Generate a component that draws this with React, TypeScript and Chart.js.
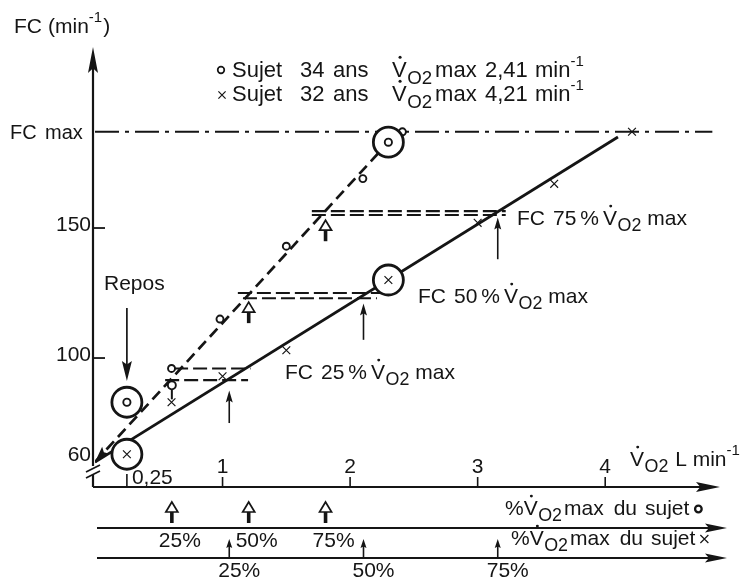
import { useEffect, useRef } from 'react';
import { Chart, registerables } from 'chart.js';

Chart.register(...registerables);

const FONT = '"Liberation Sans", Arial, sans-serif';
const INK = '#151515';

// Sujet 34 ans — V̇O2max 2,41 l/min (points « o »)
const vo2SujetO = [0.6, 0.98, 1.5, 2.1, 2.41];
const fcSujetO = [96, 115, 143, 169, 187];
// Sujet 32 ans — V̇O2max 4,21 l/min (points « × »)
const vo2SujetX = [0.6, 1.0, 1.5, 3.0, 3.6, 4.21];
const fcSujetX = [83, 93, 103, 152, 167, 187];

// Repos and encircled reference points
const vo2Repos = 0.25;
const fcReposO = 83;
const fcReposX = 63;
const vo2CercleO = 2.3;
const fcCercleO = 183;
const vo2CercleX = 2.3;
const fcCercleX = 130;

// Regression lines FC = f(V̇O2)
const droiteOvo2 = [0, 2.3];
const droiteOfc = [60, 183];
const droiteXvo2 = [0, 4.1];
const droiteXfc = [60, 185];

const fcMax = 187;
const fcMaxFin = 4.84;
const vo2MaxO = 2.41;
const vo2MaxX = 4.21;
const pourcentages = [25, 50, 75];

// FC at 25 / 50 / 75 % of V̇O2max: pairs of dashed levels
const niveauHaut = [96, 125, 156.5];
const niveauHautDebut = [0.62, 1.12, 1.7];
const niveauHautFin = [1.22, 2.24, 3.22];
const niveauBas = [91.5, 123, 155];
const niveauBasDebut = [0.55, 1.16, 1.7];
const niveauBasFin = [1.2, 2.21, 3.22];

// Arrow tips (FC) under the levels
const flecheOTip = [89.5, 121.5, 153];
const flecheXTip = [87.5, 121, 154];
const flecheXBase = [75, 107, 138];

const yTicks = [60, 100, 150];
const yTickLabels = ['60', '100', '150'];
const xTicks = [0.25, 1, 2, 3, 4];
const xTickLabels = ['0,25', '1', '2', '3', '4'];

const pts = (xs: number[], ys: number[]) => xs.map((v, i) => ({ x: v, y: ys[i] }));

type Seg = { t: string; at?: number; s?: number; dy?: number; dx?: number; dot?: boolean };

function rich(ctx: CanvasRenderingContext2D, x0: number, y: number, base: number, segs: Seg[]) {
  let cx = x0;
  ctx.textAlign = 'left';
  ctx.textBaseline = 'alphabetic';
  for (const g of segs) {
    const s = g.s ?? base;
    ctx.font = `${s}px ${FONT}`;
    if (g.at !== undefined) cx = g.at;
    cx += g.dx ?? 0;
    const yy = y + (g.dy ?? 0);
    ctx.fillText(g.t, cx, yy);
    if (g.dot) {
      const w0 = ctx.measureText(g.t[0]).width;
      ctx.beginPath();
      ctx.arc(cx + w0 * 0.55, yy - s * 0.9, s * 0.07, 0, Math.PI * 2);
      ctx.fill();
    }
    cx += ctx.measureText(g.t).width;
  }
  return cx;
}

const vo2Segs = (base: number, at?: number, dx?: number): Seg[] => [
  { t: 'V', dot: true, at, dx },
  { t: 'O', s: base * 0.85, dy: base * 0.3, dx: 0.5 },
  { t: '2', s: base * 0.85, dy: base * 0.3 },
];

function head(ctx: CanvasRenderingContext2D, tx: number, ty: number, dx: number, dy: number, len: number, hw: number) {
  const bx = tx - dx * len;
  const by = ty - dy * len;
  const px = -dy;
  const py = dx;
  ctx.beginPath();
  ctx.moveTo(tx, ty);
  ctx.lineTo(bx + px * hw, by + py * hw);
  ctx.lineTo(tx - dx * len * 0.82, ty - dy * len * 0.82);
  ctx.lineTo(bx - px * hw, by - py * hw);
  ctx.closePath();
  ctx.fill();
}

function thinUp(ctx: CanvasRenderingContext2D, x: number, yBase: number, yTip: number, lw: number, len: number, hw: number) {
  ctx.lineWidth = lw;
  ctx.beginPath();
  ctx.moveTo(x, yBase);
  ctx.lineTo(x, yTip + len * 0.7);
  ctx.stroke();
  head(ctx, x, yTip, 0, -1, len, hw);
}

function hollowUp(ctx: CanvasRenderingContext2D, x: number, tip: number) {
  ctx.lineWidth = 1.7;
  ctx.beginPath();
  ctx.moveTo(x, tip);
  ctx.lineTo(x + 6, tip + 10);
  ctx.lineTo(x - 6, tip + 10);
  ctx.closePath();
  ctx.fillStyle = '#fff';
  ctx.fill();
  ctx.stroke();
  ctx.fillStyle = INK;
  ctx.fillRect(x - 1.8, tip + 10, 3.6, 11);
}

function ring(ctx: CanvasRenderingContext2D, x: number, y: number, r: number, lw: number) {
  ctx.lineWidth = lw;
  ctx.beginPath();
  ctx.arc(x, y, r, 0, Math.PI * 2);
  ctx.stroke();
}

function cross(ctx: CanvasRenderingContext2D, x: number, y: number, r: number, lw: number) {
  ctx.lineWidth = lw;
  ctx.beginPath();
  ctx.moveTo(x - r, y - r);
  ctx.lineTo(x + r, y + r);
  ctx.moveTo(x + r, y - r);
  ctx.lineTo(x - r, y + r);
  ctx.stroke();
}

const decor = {
  id: 'decor',
  afterDatasetsDraw(chart: any) {
    const { ctx, chartArea: a, scales } = chart;
    const X = (v: number) => scales.x.getPixelForValue(v);
    const Y = (v: number) => scales.y.getPixelForValue(v);
    ctx.save();
    ctx.fillStyle = INK;
    ctx.strokeStyle = INK;
    ctx.lineCap = 'butt';

    const ax = a.left - 2;
    const bottom = a.bottom;

    // Y axis with arrow and break
    ctx.lineWidth = 2.2;
    ctx.beginPath();
    ctx.moveTo(ax, a.top + 20);
    ctx.lineTo(ax, Y(60) + 4);
    ctx.moveTo(ax, Y(60) + 13);
    ctx.lineTo(ax, bottom);
    ctx.stroke();
    head(ctx, ax, a.top + 1, 0, -1, 26, 5);
    ctx.lineWidth = 1.8;
    ctx.beginPath();
    ctx.moveTo(ax - 7, Y(60) + 10);
    ctx.lineTo(ax + 7, Y(60) + 3);
    ctx.moveTo(ax - 7, Y(60) + 16);
    ctx.lineTo(ax + 7, Y(60) + 9);
    ctx.stroke();

    // Y ticks (inward) and labels
    ctx.lineWidth = 1.8;
    yTicks.forEach((v, i) => {
      if (v !== 60) {
        ctx.beginPath();
        ctx.moveTo(ax, Y(v));
        ctx.lineTo(ax + 12, Y(v));
        ctx.stroke();
      }
      ctx.font = `21px ${FONT}`;
      ctx.textAlign = 'right';
      ctx.textBaseline = 'alphabetic';
      ctx.fillText(yTickLabels[i], ax - 2, Y(v) + (v === 60 ? -1 : 3));
    });
    ctx.font = `20px ${FONT}`;
    ctx.textAlign = 'left';
    ctx.fillText('FC', 10, Y(fcMax) + 7);
    ctx.fillText('max', 45, Y(fcMax) + 7);
    rich(ctx, 14, 33, 21, [{ t: 'FC' }, { t: '(min', dx: 6 }, { t: '-1', s: 15, dy: -11 }, { t: ')', dx: 1 }]);

    // X axis with arrow
    ctx.lineWidth = 2.2;
    ctx.beginPath();
    ctx.moveTo(ax, bottom);
    ctx.lineTo(a.right - 18, bottom);
    ctx.stroke();
    head(ctx, a.right, bottom, 1, 0, 24, 5);
    xTicks.forEach((v, i) => {
      ctx.lineWidth = 1.6;
      ctx.beginPath();
      ctx.moveTo(X(v), bottom - (i === 0 ? 13 : 10));
      ctx.lineTo(X(v), bottom);
      ctx.stroke();
      ctx.font = `21px ${FONT}`;
      if (i === 0) {
        ctx.textAlign = 'left';
        ctx.fillText(xTickLabels[i], X(v) + 5, bottom - 3);
      } else {
        ctx.textAlign = 'center';
        ctx.fillText(xTickLabels[i], X(v), bottom - 14);
      }
    });
    rich(ctx, 630, bottom - 21, 21, [...vo2Segs(21), { t: ' L min', dx: 1 }, { t: '-1', s: 15, dy: -11 }]);

    // origin arrowhead on the dashed line
    {
      const x0 = X(droiteOvo2[0]);
      const y0 = Y(droiteOfc[0]);
      const x1 = X(droiteOvo2[1]);
      const y1 = Y(droiteOfc[1]);
      const L = Math.hypot(x1 - x0, y1 - y0);
      head(ctx, x0, y0, (x0 - x1) / L, (y0 - y1) / L, 16, 5);
    }

    // Repos
    ctx.font = `21px ${FONT}`;
    ctx.textAlign = 'left';
    ctx.fillText('Repos', 104, 290);
    ctx.lineWidth = 1.7;
    ctx.beginPath();
    ctx.moveTo(X(vo2Repos), 308);
    ctx.lineTo(X(vo2Repos), 366);
    ctx.stroke();
    head(ctx, X(vo2Repos), 381, 0, 1, 20, 5);

    // arrows at 25/50/75 % of each subject's V̇O2max
    pourcentages.forEach((p, i) => {
      const xo = X((vo2MaxO * p) / 100);
      const xx = X((vo2MaxX * p) / 100);
      if (i === 0) {
        ring(ctx, xo, Y(flecheOTip[0]), 4, 1.9);
        ctx.lineWidth = 2;
        ctx.beginPath();
        ctx.moveTo(xo, Y(flecheOTip[0]) + 4);
        ctx.lineTo(xo, Y(flecheOTip[0]) + 14);
        ctx.stroke();
      } else {
        hollowUp(ctx, xo, Y(flecheOTip[i]));
      }
      thinUp(ctx, xx, Y(flecheXBase[i]), Y(flecheXTip[i]), 1.6, 12, 3.5);
    });

    // level labels
    const lab = (x: number, y: number, pct: string) =>
      rich(ctx, x, y, 21, [{ t: 'FC' }, { t: pct, dx: 8 }, { t: '%', dx: 4 }, ...vo2Segs(21, undefined, 4), { t: 'max', dx: 6 }]);
    lab(517, 225, '75');
    lab(418, 303, '50');
    lab(285, 379, '25');

    // legend
    ring(ctx, 221, 70, 3.3, 1.7);
    cross(ctx, 222, 95, 3.6, 1.2);
    const L1 = 77;
    const L2 = 101;
    [
      { y: L1, age: '34', v: '2,41' },
      { y: L2, age: '32', v: '4,21' },
    ].forEach((r) => {
      rich(ctx, 232, r.y, 22, [
        { t: 'Sujet' },
        { t: r.age, at: 300 },
        { t: 'ans', at: 333 },
        ...vo2Segs(22, 392),
        { t: 'max', dx: 3 },
        { t: r.v, at: 485 },
        { t: 'min', at: 535 },
        { t: '-1', s: 15, dy: -11 },
      ]);
    });

    // % V̇O2max rows
    const row1 = bottom + 41;
    const row2 = bottom + 71;
    [row1, row2].forEach((ry) => {
      ctx.lineWidth = 2.2;
      ctx.beginPath();
      ctx.moveTo(ax + 4, ry);
      ctx.lineTo(a.right - 10, ry);
      ctx.stroke();
      head(ctx, a.right + 7, ry, 1, 0, 22, 4.5);
    });
    pourcentages.forEach((p) => {
      const xo = X((vo2MaxO * p) / 100);
      hollowUp(ctx, xo, row1 - 26);
      ctx.font = `21px ${FONT}`;
      ctx.textAlign = 'center';
      ctx.fillText(`${p}%`, xo + 8, row1 + 19);
      const xx = X((vo2MaxX * p) / 100);
      thinUp(ctx, xx, row2, row2 - 19, 1.6, 9, 3);
      ctx.textAlign = 'center';
      ctx.fillText(`${p}%`, xx + 10, row2 + 19);
    });
    const rowText: Seg[] = [{ t: '%' }, ...vo2Segs(21), { t: 'max', dx: 2 }, { t: 'du', dx: 10 }, { t: 'sujet', dx: 8 }];
    const e1 = rich(ctx, 505, row1 - 13, 21, rowText);
    ring(ctx, e1 + 9, row1 - 19, 3.3, 2.3);
    const e2 = rich(ctx, 511, row2 - 13, 21, rowText);
    cross(ctx, e2 + 9, row2 - 19, 4, 1.2);

    ctx.restore();
  },
};

export default function App() {
  const ref = useRef<HTMLCanvasElement | null>(null);

  useEffect(() => {
    if (!ref.current) return;
    const line = (data: { x: number; y: number }[], dash: number[], width: number) => ({
      data,
      showLine: true,
      borderColor: INK,
      borderWidth: width,
      borderDash: dash,
      borderCapStyle: 'butt' as const,
      pointRadius: 0,
      fill: false,
      tension: 0,
    });

    const levelSets = niveauHaut.flatMap((fc, i) => [
      line(pts([niveauHautDebut[i], niveauHautFin[i]], [fc, fc]), [14, 5], 2.1),
      line(pts([niveauBasDebut[i], niveauBasFin[i]], [niveauBas[i], niveauBas[i]]), [14, 5], 2.1),
    ]);

    const chart = new Chart(ref.current, {
      type: 'scatter',
      data: {
        datasets: [
          {
            data: pts([vo2Repos, vo2CercleO], [fcReposO, fcCercleO]),
            pointStyle: 'circle',
            pointRadius: 3.6,
            borderWidth: 1.9,
            borderColor: INK,
            backgroundColor: '#fff',
          },
          {
            data: pts([vo2Repos, vo2CercleX], [fcReposX, fcCercleX]),
            pointStyle: 'crossRot',
            pointRadius: 5.5,
            borderWidth: 1.2,
            borderColor: INK,
          },
          {
            data: pts([vo2Repos, vo2CercleO, vo2Repos, vo2CercleX], [fcReposO, fcCercleO, fcReposX, fcCercleX]),
            pointStyle: 'circle',
            pointRadius: 15,
            borderWidth: 2.8,
            borderColor: INK,
            backgroundColor: '#fff',
          },
          {
            data: pts(vo2SujetO, fcSujetO),
            pointStyle: 'circle',
            pointRadius: 3.5,
            borderWidth: 1.9,
            borderColor: INK,
            backgroundColor: '#fff',
          },
          {
            data: pts(vo2SujetX, fcSujetX),
            pointStyle: 'crossRot',
            pointRadius: 5.5,
            borderWidth: 1.2,
            borderColor: INK,
          },
          line(pts(droiteOvo2, droiteOfc), [11, 6], 2.7),
          line(pts(droiteXvo2, droiteXfc), [], 2.8),
          line(pts([0, fcMaxFin], [fcMax, fcMax]), [24, 6, 4, 6], 2.1),
          ...levelSets,
        ],
      },
      options: {
        animation: false,
        responsive: false,
        devicePixelRatio: 1,
        layout: { padding: { left: 95, right: 24, top: 46, bottom: 95 } },
        plugins: { legend: { display: false }, tooltip: { enabled: false } },
        scales: {
          x: { type: 'linear', min: 0, max: 4.9, display: false },
          y: { type: 'linear', min: 50.4, max: 220, display: false },
        },
      },
      plugins: [decor],
    });
    return () => chart.destroy();
  }, []);

  return (
    <div style={{ position: 'fixed', left: 0, top: 0, width: 744, height: 582, background: '#fff' }}>
      <canvas ref={ref} width={744} height={582} />
    </div>
  );
}
